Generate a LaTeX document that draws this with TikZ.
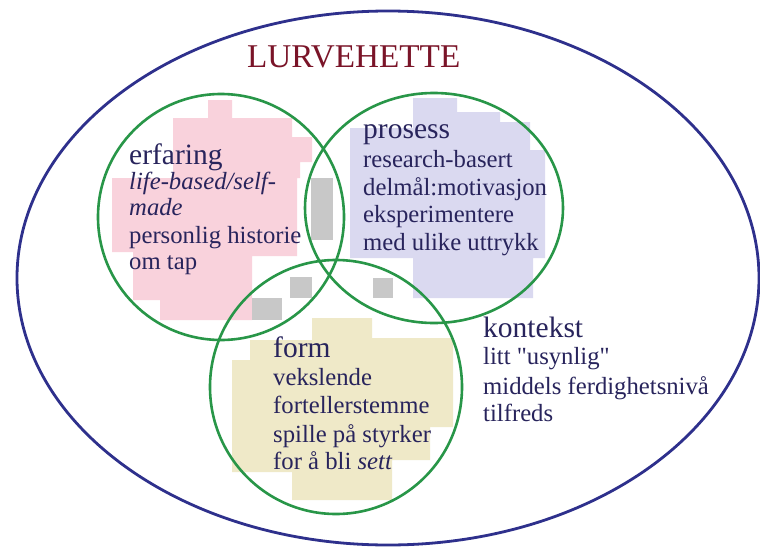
\documentclass[tikz,border=0pt]{standalone}
\usepackage{fontspec}
\setmainfont{Liberation Serif}
\newfontfamily\plainquote{Liberation Serif}[Ligatures=TeXOff]
\definecolor{outerblue}{RGB}{46,48,140}
\definecolor{vgreen}{RGB}{40,150,72}
\definecolor{txt}{RGB}{40,36,92}
\definecolor{titlered}{RGB}{122,20,40}
\definecolor{pinkb}{RGB}{249,210,220}
\definecolor{lavb}{RGB}{218,217,240}
\definecolor{beigeb}{RGB}{239,233,200}
\definecolor{grayb}{RGB}{200,200,200}
\begin{document}
\begin{tikzpicture}[x=1pt,y=-1pt,
  head/.style={anchor=base west, inner sep=0pt, text=txt, font=\fontsize{29.5}{30}\selectfont},
  body/.style={anchor=base west, inner sep=0pt, text=txt, font=\fontsize{24.7}{25}\selectfont},
  ring/.style={draw=vgreen, line width=2.6pt}]
\useasboundingbox (0,0) rectangle (760,546);
\fill[white] (0,0) rectangle (760,546);
% pink blob
\fill[pinkb] (208,100) -- (232,100) -- (232,118) -- (292,118) -- (292,137) -- (312,137)
  -- (312,162) -- (300,162) -- (300,178) -- (297,178) -- (297,256) -- (252,256)
  -- (252,320) -- (160,320) -- (160,300) -- (133,300) -- (133,252) -- (112,252)
  -- (112,178) -- (173,178) -- (173,118) -- (208,118) -- cycle;
% lavender blob
\fill[lavb] (413,98) -- (457,98) -- (457,112) -- (500,112) -- (500,122) -- (530,122)
  -- (530,150) -- (545,150) -- (545,258) -- (533,258) -- (533,298) -- (413,298)
  -- (413,258) -- (350,258) -- (350,128) -- (413,128) -- cycle;
% beige blob
\fill[beigeb] (312,318) -- (372,318) -- (372,338) -- (453,338) -- (453,427) -- (430,427)
  -- (430,460) -- (392,460) -- (392,500) -- (292,500) -- (292,472) -- (232,472)
  -- (232,360) -- (250,360) -- (250,340) -- (312,340) -- cycle;
% grey blobs
\fill[grayb] (311,178) rectangle (333,240);
\fill[grayb] (290,277) rectangle (312,298);
\fill[grayb] (252,298) rectangle (282,320);
\fill[grayb] (373,278) rectangle (393,298);
% outer ellipse
\draw[outerblue, line width=2.8pt] (388,278) ellipse [x radius=371, y radius=267];
% green circles
\draw[ring] (221,217) ellipse [x radius=123, y radius=123];
\draw[ring] (434,208) ellipse [x radius=129, y radius=115];
\draw[ring] (336,387) ellipse [x radius=126, y radius=127];
% title
\node[anchor=base west, inner sep=0pt, text=titlered, font=\fontsize{33.2}{34}\selectfont] (title) at (247,67) {LURVEHETTE};
% erfaring
\node[head] (e0) at (129,164) {erfaring};
\node[body] (e1) at (129,189) {\itshape life-based/self-};
\node[body] (e2) at (129,215) {\itshape made};
\node[body] (e3) at (129,243) {personlig historie};
\node[body] (e4) at (129,269) {om tap};
% prosess
\node[head] (p0) at (363,138) {prosess};
\node[body] (p1) at (363,167) {research-basert};
\node[body] (p2) at (363,195) {delmål:motivasjon};
\node[body] (p3) at (363,222) {eksperimentere};
\node[body] (p4) at (363,250) {med ulike uttrykk};
% form
\node[head] (f0) at (273,357) {form};
\node[body] (f1) at (273,385) {vekslende};
\node[body] (f2) at (273,413) {fortellerstemme};
\node[body] (f3) at (273,442) {spille på styrker};
\node[body] (f4) at (273,469) {for å bli \textit{sett}};
% kontekst
\node[head] (k0) at (483,337) {kontekst};
\node[body] (k1) at (483,364) {\plainquote litt "usynlig"};
\node[body] (k2) at (483,394) {middels ferdighetsnivå};
\node[body] (k3) at (483,421) {tilfreds};
\end{tikzpicture}
\end{document}
